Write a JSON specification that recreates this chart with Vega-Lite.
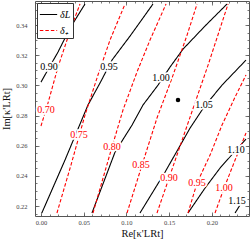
{
"$schema": "https://vega.github.io/schema/vega-lite/v6.json",
"width": 214, "height": 215,
"autosize": "none",
"padding": {"left": 35, "top": 1, "right": 1, "bottom": 29},
"config": {
  "view": {"stroke": "#555", "strokeWidth": 1},
  "font": "Liberation Serif",
  "axis": {"domain": false, "grid": false, "labelFont": "Liberation Serif", "labelFontSize": 6.5, "labelColor": "#444", "tickColor": "#555", "tickWidth": 0.8, "labelOverlap": false, "labelFlush": false, "titleFont": "Liberation Serif", "titleFontWeight": "normal", "titleFontSize": 10.5, "titleColor": "#111"},
  "legend": {"orient": "none", "legendX": 2, "legendY": 2, "strokeColor": "#333", "fillColor": "white", "padding": 2, "symbolType": "stroke", "symbolSize": 300, "symbolStrokeWidth": 1.2, "labelFont": "Liberation Serif", "labelFontSize": 10, "labelFontStyle": "italic", "rowPadding": 1, "labelOffset": 2}
},
"datasets": {
  "contours": [
    {"s": "δL", "c": "0.90", "x": 0.0, "y": 0.3022},
    {"s": "δL", "c": "0.90", "x": 0.0105, "y": 0.3128},
    {"s": "δL", "c": "0.90", "x": 0.0199, "y": 0.3221},
    {"s": "δL", "c": "0.90", "x": 0.034, "y": 0.338},
    {"s": "δL", "c": "0.90", "x": 0.0515, "y": 0.354},
    {"s": "δL", "c": "0.95", "x": 0.001, "y": 0.2154},
    {"s": "δL", "c": "0.95", "x": 0.0281, "y": 0.2505},
    {"s": "δL", "c": "0.95", "x": 0.055, "y": 0.287},
    {"s": "δL", "c": "0.95", "x": 0.0691, "y": 0.3016},
    {"s": "δL", "c": "0.95", "x": 0.0831, "y": 0.3168},
    {"s": "δL", "c": "0.95", "x": 0.1042, "y": 0.3327},
    {"s": "δL", "c": "0.95", "x": 0.1311, "y": 0.354},
    {"s": "δL", "c": "1.00", "x": 0.0597, "y": 0.2154},
    {"s": "δL", "c": "1.00", "x": 0.0867, "y": 0.2558},
    {"s": "δL", "c": "1.00", "x": 0.1066, "y": 0.2737},
    {"s": "δL", "c": "1.00", "x": 0.1194, "y": 0.287},
    {"s": "δL", "c": "1.00", "x": 0.137, "y": 0.3002},
    {"s": "δL", "c": "1.00", "x": 0.1511, "y": 0.3122},
    {"s": "δL", "c": "1.00", "x": 0.1663, "y": 0.3241},
    {"s": "δL", "c": "1.00", "x": 0.192, "y": 0.3394},
    {"s": "δL", "c": "1.00", "x": 0.2178, "y": 0.354},
    {"s": "δL", "c": "1.05", "x": 0.1159, "y": 0.2154},
    {"s": "δL", "c": "1.05", "x": 0.1452, "y": 0.2425},
    {"s": "δL", "c": "1.05", "x": 0.1745, "y": 0.2717},
    {"s": "δL", "c": "1.05", "x": 0.1909, "y": 0.2857},
    {"s": "δL", "c": "1.05", "x": 0.2119, "y": 0.3002},
    {"s": "δL", "c": "1.05", "x": 0.24, "y": 0.3168},
    {"s": "δL", "c": "1.10", "x": 0.1721, "y": 0.2154},
    {"s": "δL", "c": "1.10", "x": 0.192, "y": 0.2319},
    {"s": "δL", "c": "1.10", "x": 0.2096, "y": 0.2452},
    {"s": "δL", "c": "1.10", "x": 0.2283, "y": 0.2571},
    {"s": "δL", "c": "1.10", "x": 0.24, "y": 0.2644},
    {"s": "δL", "c": "1.15", "x": 0.2272, "y": 0.2154},
    {"s": "δL", "c": "1.15", "x": 0.233, "y": 0.2207},
    {"s": "δL", "c": "1.15", "x": 0.24, "y": 0.2266},
    {"s": "δ₊", "c": "0.70", "x": 0.0, "y": 0.2731},
    {"s": "δ₊", "c": "0.70", "x": 0.0082, "y": 0.2883},
    {"s": "δ₊", "c": "0.70", "x": 0.0199, "y": 0.3122},
    {"s": "δ₊", "c": "0.70", "x": 0.0363, "y": 0.34},
    {"s": "δ₊", "c": "0.70", "x": 0.0457, "y": 0.354},
    {"s": "δ₊", "c": "0.75", "x": 0.0187, "y": 0.2154},
    {"s": "δ₊", "c": "0.75", "x": 0.0351, "y": 0.2472},
    {"s": "δ₊", "c": "0.75", "x": 0.0515, "y": 0.2803},
    {"s": "δ₊", "c": "0.75", "x": 0.0667, "y": 0.3069},
    {"s": "δ₊", "c": "0.75", "x": 0.0808, "y": 0.3301},
    {"s": "δ₊", "c": "0.75", "x": 0.0984, "y": 0.354},
    {"s": "δ₊", "c": "0.80", "x": 0.0609, "y": 0.2154},
    {"s": "δ₊", "c": "0.80", "x": 0.0831, "y": 0.2591},
    {"s": "δ₊", "c": "0.80", "x": 0.096, "y": 0.2837},
    {"s": "δ₊", "c": "0.80", "x": 0.1124, "y": 0.3089},
    {"s": "δ₊", "c": "0.80", "x": 0.1276, "y": 0.3301},
    {"s": "δ₊", "c": "0.80", "x": 0.1464, "y": 0.354},
    {"s": "δ₊", "c": "0.85", "x": 0.1007, "y": 0.2154},
    {"s": "δ₊", "c": "0.85", "x": 0.1183, "y": 0.2472},
    {"s": "δ₊", "c": "0.85", "x": 0.1358, "y": 0.2784},
    {"s": "δ₊", "c": "0.85", "x": 0.1534, "y": 0.3049},
    {"s": "δ₊", "c": "0.85", "x": 0.171, "y": 0.3334},
    {"s": "δ₊", "c": "0.85", "x": 0.1827, "y": 0.354},
    {"s": "δ₊", "c": "0.90", "x": 0.1358, "y": 0.2154},
    {"s": "δ₊", "c": "0.90", "x": 0.1499, "y": 0.2386},
    {"s": "δ₊", "c": "0.90", "x": 0.1733, "y": 0.277},
    {"s": "δ₊", "c": "0.90", "x": 0.1956, "y": 0.3135},
    {"s": "δ₊", "c": "0.90", "x": 0.219, "y": 0.354},
    {"s": "δ₊", "c": "0.95", "x": 0.1721, "y": 0.2154},
    {"s": "δ₊", "c": "0.95", "x": 0.1827, "y": 0.2353},
    {"s": "δ₊", "c": "0.95", "x": 0.1979, "y": 0.2538},
    {"s": "δ₊", "c": "0.95", "x": 0.2119, "y": 0.2737},
    {"s": "δ₊", "c": "0.95", "x": 0.2272, "y": 0.2923},
    {"s": "δ₊", "c": "0.95", "x": 0.24, "y": 0.3069},
    {"s": "δ₊", "c": "1.00", "x": 0.2037, "y": 0.2154},
    {"s": "δ₊", "c": "1.00", "x": 0.2143, "y": 0.2319},
    {"s": "δ₊", "c": "1.00", "x": 0.2272, "y": 0.2505},
    {"s": "δ₊", "c": "1.00", "x": 0.24, "y": 0.2684}
  ],
  "labels": [
    {"s": "δL", "t": "0.90", "x": 0.0094, "y": 0.3122},
    {"s": "δL", "t": "0.95", "x": 0.0796, "y": 0.3122},
    {"s": "δL", "t": "1.00", "x": 0.1405, "y": 0.3049},
    {"s": "δL", "t": "1.05", "x": 0.1909, "y": 0.287},
    {"s": "δL", "t": "1.10", "x": 0.2283, "y": 0.2571},
    {"s": "δL", "t": "1.15", "x": 0.2295, "y": 0.2233},
    {"s": "δ₊", "t": "0.70", "x": 0.0059, "y": 0.2837},
    {"s": "δ₊", "t": "0.75", "x": 0.0445, "y": 0.2671},
    {"s": "δ₊", "t": "0.80", "x": 0.0831, "y": 0.2591},
    {"s": "δ₊", "t": "0.85", "x": 0.1171, "y": 0.2472},
    {"s": "δ₊", "t": "0.90", "x": 0.1499, "y": 0.2386},
    {"s": "δ₊", "t": "0.95", "x": 0.1827, "y": 0.2353},
    {"s": "δ₊", "t": "1.00", "x": 0.2143, "y": 0.2319}
  ],
  "pt": [{"x": 0.1604, "y": 0.2903}]
},
"resolve": {"axis": {"x": "independent", "y": "independent"}},
"layer": [
  {
    "data": {"name": "contours"},
    "mark": {"type": "line", "strokeWidth": 1.1},
    "encoding": {
      "x": {"field": "x", "type": "quantitative", "scale": {"domain": [-0.007, 0.2435], "nice": false, "zero": false},
            "axis": {"orient": "bottom", "values": [0, 0.05, 0.1, 0.15, 0.2], "format": ".2f", "tickSize": -4, "labelPadding": 7, "title": "Re[κ'LRt]", "titlePadding": 3}},
      "y": {"field": "y", "type": "quantitative", "scale": {"domain": [0.2134, 0.356], "nice": false, "zero": false},
            "axis": {"orient": "left", "values": [0.22, 0.24, 0.26, 0.28, 0.3, 0.32, 0.34], "format": ".2f", "tickSize": -4, "labelPadding": 12, "title": "Im[κ'LRt]", "titlePadding": 4}},
      "color": {"field": "s", "type": "nominal", "scale": {"domain": ["δL", "δ₊"], "range": ["#000000", "#ff0000"]}, "legend": {"title": null}},
      "strokeDash": {"field": "s", "type": "nominal", "scale": {"domain": ["δL", "δ₊"], "range": [[1, 0], [3.5, 2]]}, "legend": {"title": null}},
      "detail": {"field": "c"},
      "order": {"field": "y", "type": "quantitative"}
    }
  },
  {
    "data": {"name": "pt"},
    "mark": {"type": "circle", "size": 20, "color": "#000", "opacity": 1},
    "encoding": {
      "x": {"field": "x", "type": "quantitative", "scale": {"domain": [-0.007, 0.2435], "nice": false, "zero": false},
            "axis": {"orient": "top", "values": [0, 0.05, 0.1, 0.15, 0.2], "tickSize": -4, "labels": false, "title": null}},
      "y": {"field": "y", "type": "quantitative", "scale": {"domain": [0.2134, 0.356], "nice": false, "zero": false},
            "axis": {"orient": "right", "values": [0.22, 0.24, 0.26, 0.28, 0.3, 0.32, 0.34], "tickSize": -4, "labels": false, "title": null}}
    }
  },
  {
    "data": {"name": "labels"},
    "mark": {"type": "text", "fontSize": 10, "font": "Liberation Serif", "stroke": "white", "strokeWidth": 3.5, "fill": "white", "align": "center", "baseline": "middle"},
    "encoding": {
      "x": {"field": "x", "type": "quantitative", "scale": {"domain": [-0.007, 0.2435], "nice": false, "zero": false},
            "axis": {"orient": "bottom", "values": [0, 0.01, 0.02, 0.03, 0.04, 0.05, 0.06, 0.07, 0.08, 0.09, 0.1, 0.11, 0.12, 0.13, 0.14, 0.15, 0.16, 0.17, 0.18, 0.19, 0.2, 0.21, 0.22, 0.23, 0.24], "tickSize": -2, "labels": false, "title": null}},
      "y": {"field": "y", "type": "quantitative", "scale": {"domain": [0.2134, 0.356], "nice": false, "zero": false},
            "axis": {"orient": "left", "values": [0.215, 0.22, 0.225, 0.23, 0.235, 0.24, 0.245, 0.25, 0.255, 0.26, 0.265, 0.27, 0.275, 0.28, 0.285, 0.29, 0.295, 0.3, 0.305, 0.31, 0.315, 0.32, 0.325, 0.33, 0.335, 0.34, 0.345, 0.35, 0.355], "tickSize": -2, "labels": false, "title": null}},
      "text": {"field": "t"}
    }
  },
  {
    "data": {"name": "labels"},
    "mark": {"type": "text", "fontSize": 10, "font": "Liberation Serif", "align": "center", "baseline": "middle"},
    "encoding": {
      "x": {"field": "x", "type": "quantitative", "scale": {"domain": [-0.007, 0.2435], "nice": false, "zero": false},
            "axis": {"orient": "top", "values": [0, 0.01, 0.02, 0.03, 0.04, 0.05, 0.06, 0.07, 0.08, 0.09, 0.1, 0.11, 0.12, 0.13, 0.14, 0.15, 0.16, 0.17, 0.18, 0.19, 0.2, 0.21, 0.22, 0.23, 0.24], "tickSize": -2, "labels": false, "title": null}},
      "y": {"field": "y", "type": "quantitative", "scale": {"domain": [0.2134, 0.356], "nice": false, "zero": false},
            "axis": {"orient": "right", "values": [0.215, 0.22, 0.225, 0.23, 0.235, 0.24, 0.245, 0.25, 0.255, 0.26, 0.265, 0.27, 0.275, 0.28, 0.285, 0.29, 0.295, 0.3, 0.305, 0.31, 0.315, 0.32, 0.325, 0.33, 0.335, 0.34, 0.345, 0.35, 0.355], "tickSize": -2, "labels": false, "title": null}},
      "text": {"field": "t"},
      "color": {"condition": {"test": "datum.s === 'δL'", "value": "#000000"}, "value": "#ff0000"}
    }
  }
]
}
